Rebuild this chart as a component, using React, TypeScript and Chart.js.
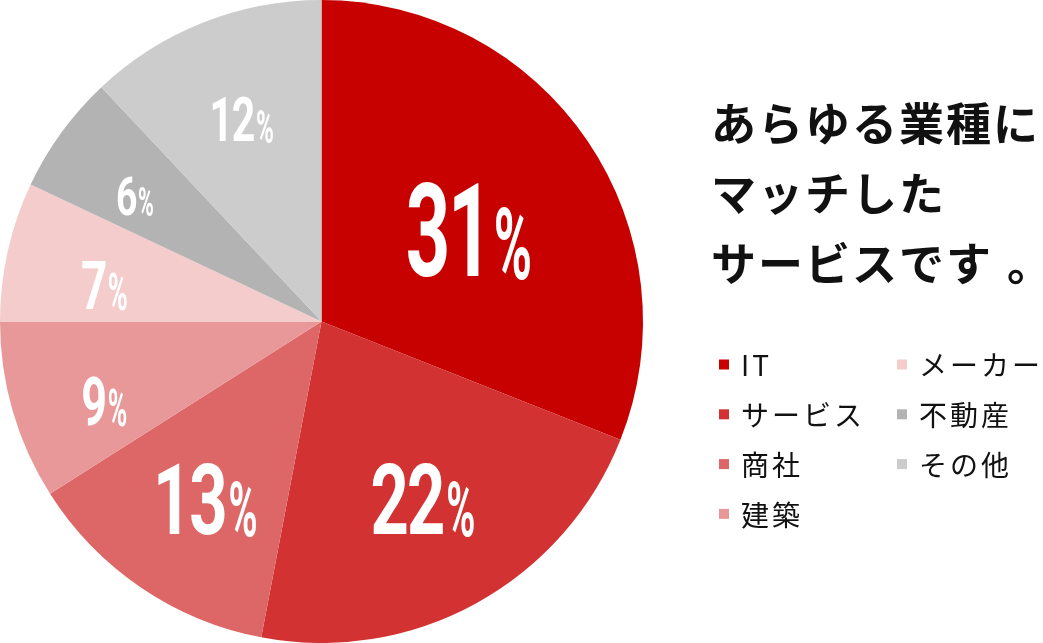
import React, { useEffect, useRef } from 'react';
import { Chart, registerables } from 'chart.js';

Chart.register(...registerables);

// ---- data ----
const categories = ['IT', 'サービス', '商社', '建築', 'メーカー', '不動産', 'その他'];
const shares = [31, 22, 13, 9, 7, 6, 12];
const titleLines = ['あらゆる業種に', 'マッチした', 'サービスです。'];

// ---- styles ----
const colors = ['#c70000', '#d23232', '#dd6666', '#e89898', '#f4cccc', '#b3b3b3', '#cccccc'];
const labelDigitHeight = [92, 70, 70, 47, 48, 38, 43];
const labelScaleX = [0.6, 0.68, 0.68, 0.68, 0.68, 0.7, 0.68];
const labelRadiusFrac = [0.54, 0.635, 0.66, 0.72, 0.685, 0.70, 0.675];
const labelAngleShift = [2.3, -1, -1, -4, -3, -2, 0];

const CJK = '"Noto Sans CJK JP", "Noto Sans", sans-serif';

function drawPct(ctx: CanvasRenderingContext2D, cx: number, cy: number, value: number, h: number, sx: number) {
  const fs = h / 0.711;
  const pfs = fs * 0.77;
  const psx = 0.52;
  const num = String(value);
  const ls = -fs * 0.03;
  ctx.save();
  (ctx as any).letterSpacing = `${ls}px`;
  ctx.font = `700 ${fs}px Roboto`;
  const wNum = (ctx.measureText(num).width) * sx;
  (ctx as any).letterSpacing = '0px';
  ctx.font = `700 ${pfs}px Roboto`;
  const wPct = ctx.measureText('%').width * psx;
  ctx.restore();
  const gap = h * 0.04;
  const total = wNum + gap + wPct;
  const left = cx - total / 2;
  const base = cy + h / 2;
  ctx.save();
  ctx.fillStyle = '#ffffff';
  ctx.textAlign = 'left';
  ctx.textBaseline = 'alphabetic';
  ctx.save();
  ctx.translate(left, base);
  ctx.scale(sx, 1);
  (ctx as any).letterSpacing = `${ls}px`;
  ctx.font = `700 ${fs}px Roboto`;
  ctx.fillText(num, 0, 0);
  ctx.restore();
  ctx.save();
  ctx.translate(left + wNum + gap, base + h * 0.03);
  ctx.scale(psx, 1);
  (ctx as any).letterSpacing = '0px';
  ctx.font = `700 ${pfs}px Roboto`;
  ctx.fillText('%', 0, 0);
  ctx.restore();
  ctx.restore();
}

const overlayPlugin = {
  id: 'overlay',
  afterDatasetsDraw(chart: any) {
    const ctx: CanvasRenderingContext2D = chart.ctx;
    const meta = chart.getDatasetMeta(0);
    meta.data.forEach((arc: any, i: number) => {
      const p = arc.getProps(['x', 'y', 'startAngle', 'endAngle', 'outerRadius'], true);
      const mid = (p.startAngle + p.endAngle) / 2 + (labelAngleShift[i] * Math.PI) / 180;
      const r = p.outerRadius * labelRadiusFrac[i];
      const cx = p.x + Math.cos(mid) * r;
      const cy = p.y + Math.sin(mid) * r;
      drawPct(ctx, cx, cy, shares[i], labelDigitHeight[i], labelScaleX[i]);
    });

    // title
    ctx.save();
    ctx.fillStyle = '#111111';
    ctx.textAlign = 'left';
    ctx.textBaseline = 'alphabetic';
    ctx.font = `700 45px ${CJK}`;
    (ctx as any).letterSpacing = '2px';
    titleLines.forEach((line, i) => {
      const y = 141 + i * 70;
      if (line.endsWith('。')) {
        const body = line.slice(0, -1);
        ctx.fillText(body, 711, y);
        const w = ctx.measureText(body).width;
        ctx.fillText('。', 711 + w + 14, y);
      } else {
        ctx.fillText(line, 711, y);
      }
    });
    ctx.restore();

    // legend
    ctx.save();
    ctx.textAlign = 'left';
    ctx.textBaseline = 'middle';
    ctx.font = `400 28px ${CJK}`;
    (ctx as any).letterSpacing = '3px';
    categories.forEach((cat, i) => {
      const col = i < 4 ? 0 : 1;
      const row = i < 4 ? i : i - 4;
      const sqX = col === 0 ? 719 : 897;
      const cy = 364.5 + row * 49.8;
      ctx.fillStyle = colors[i];
      ctx.fillRect(sqX, cy - 5, 10, 10);
      ctx.fillStyle = '#111111';
      ctx.fillText(cat, sqX + 22, cy + 1);
    });
    ctx.restore();
  },
};

export default function App() {
  const ref = useRef<HTMLCanvasElement | null>(null);
  useEffect(() => {
    if (!ref.current) return;
    const chart = new Chart(ref.current, {
      type: 'pie',
      data: {
        labels: categories,
        datasets: [
          {
            data: shares,
            backgroundColor: colors,
            borderWidth: 0,
          },
        ],
      },
      options: {
        animation: false,
        responsive: false,
        layout: { padding: { left: 0, top: 0, bottom: 0, right: 400 } },
        plugins: {
          legend: { display: false },
          tooltip: { enabled: false },
        },
      },
      plugins: [overlayPlugin],
    });
    return () => chart.destroy();
  }, []);
  return (
    <div style={{ position: 'fixed', left: 0, top: 0, width: 1043, height: 643, background: '#ffffff' }}>
      <canvas ref={ref} width={1043} height={643} style={{ display: 'block' }} />
    </div>
  );
}
